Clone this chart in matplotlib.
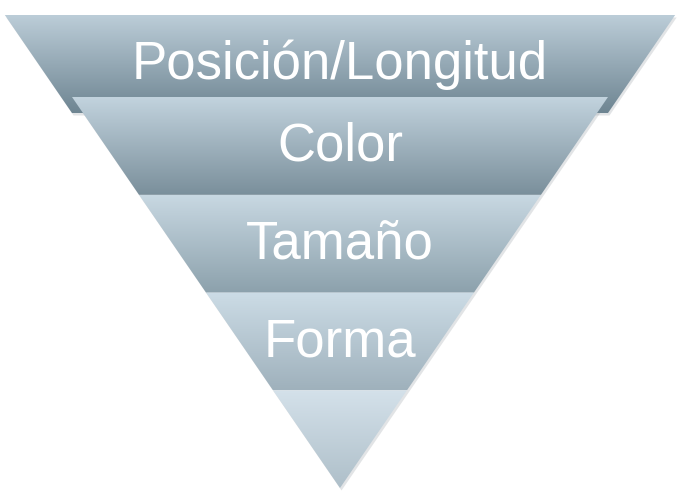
import numpy as np
import matplotlib
matplotlib.use("Agg")
import matplotlib.pyplot as plt
from matplotlib.patches import Polygon
from matplotlib.colors import LinearSegmentedColormap

# Levels of the pyramid, top to bottom
labels = ["Posición/Longitud", "Color", "Tamaño", "Forma", ""]
top_colors = ["#bccdd8", "#c2d3de", "#c8d8e2", "#ccdce6", "#d4e1ea"]
bottom_colors = ["#6e8592", "#7a8f9b", "#8ca1ac", "#9fb1bc", "#aebfc9"]

W, H = 680, 496
fig = plt.figure(figsize=(W / 100, H / 100), dpi=100)
ax = fig.add_axes([0, 0, 1, 1])
ax.set_xlim(0, W)
ax.set_ylim(H, 0)
ax.axis("off")

cx = 340
apex_y = 488
band_h = 97.8
first_top = 97
slope = 268 / (apex_y - first_top)  # horizontal shrink per pixel of height


def half_width(y, shift):
    return (apex_y + shift - y) * slope


def draw_band(y_top, y_bot, shift, ctop, cbot, label):
    hw_t = half_width(y_top, shift)
    hw_b = max(half_width(y_bot, shift), 0)
    pts = [(cx - hw_t, y_top), (cx + hw_t, y_top), (cx + hw_b, y_bot), (cx - hw_b, y_bot)]
    # soft shadow
    sh = Polygon([(x + 1.5, y + 2.5) for x, y in pts], closed=True, fc="#a0a8ad",
                 ec="none", alpha=0.3, zorder=1)
    ax.add_patch(sh)
    poly = Polygon(pts, closed=True, fc="none", ec="none", zorder=2)
    ax.add_patch(poly)
    cmap = LinearSegmentedColormap.from_list("g", [ctop, cbot])
    grad = np.linspace(0, 1, 256).reshape(-1, 1)
    im = ax.imshow(grad, cmap=cmap, aspect="auto",
                   extent=(cx - hw_t - 2, cx + hw_t + 2, y_bot, y_top),
                   zorder=2, interpolation="bilinear")
    im.set_clip_path(poly)
    if label:
        ax.text(cx, (y_top + y_bot) / 2 + 1, label, ha="center", va="center",
                color="white", fontsize=38, family="Liberation Sans", zorder=5)


# top band is the same funnel shifted 16 px down, so it pokes out at the sides
draw_band(15, 113, 16, top_colors[0], bottom_colors[0], labels[0])
for i in range(1, 5):
    y0 = first_top + (i - 1) * band_h
    y1 = apex_y if i == 4 else first_top + i * band_h
    draw_band(y0, y1, 0, top_colors[i], bottom_colors[i], labels[i])

fig.savefig("out.png", dpi=100, facecolor="white")
